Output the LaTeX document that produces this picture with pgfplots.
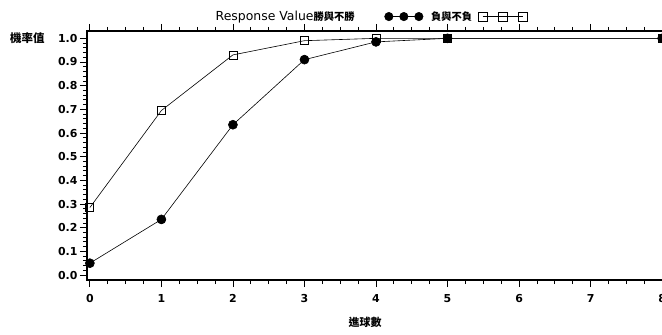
\documentclass[border=0pt]{standalone}
\usepackage{pgfplots}
\pgfplotsset{compat=1.18}
\usepackage{fontspec}
\setmainfont{DejaVu Sans}
\newfontfamily\cjk{Noto Sans CJK TC}
\begin{document}
\begin{tikzpicture}
\begin{axis}[
  at={(87bp,55bp)}, anchor=south west,
  scale only axis, width=578bp, height=249bp,
  xmin=-0.04, xmax=8.04, ymin=-0.021, ymax=1.031,
  clip=false,
  xtick={0,1,2,3,4,5,6,7,8},
  xticklabels={0,1,2,3,4,5,6,7,8},
  ytick={0,0.1,0.2,0.3,0.4,0.5,0.6,0.7,0.8,0.9,1.0},
  yticklabels={0.0,0.1,0.2,0.3,0.4,0.5,0.6,0.7,0.8,0.9,1.0},
  minor x tick num=3, minor y tick num=4,
  tick align=outside,
  major tick length=7bp, minor tick length=4bp,
  tick style={black, line width=0.8bp},
  axis line style={line width=1.2bp},
  ticklabel style={font=\fontsize{11}{13}\selectfont\bfseries},
  xticklabel style={yshift=-4bp},
  yticklabel style={xshift=1bp},
  xlabel={\cjk\bfseries 進球數},
  ylabel={\cjk\bfseries 機率值},
  every axis x label/.style={at={(rel axis cs:0.481,0)}, anchor=center, yshift=-42bp, font=\fontsize{11}{13}\selectfont},
  every axis y label/.style={at={(rel axis cs:0,0.972)}, anchor=east, xshift=-39bp, font=\fontsize{11.5}{13}\selectfont},
  legend columns=3,
  legend plot pos=right,
  legend style={at={(0.492,1.058)}, anchor=center, draw=none, fill=none,
    inner sep=0pt, nodes={inner sep=0pt}, column sep=0bp},
]
\addlegendimage{empty legend}
\addlegendentry{\fontsize{12.5}{14}\selectfont Response Value}
\addplot[black, line width=0.6bp, mark=*, mark size=4.5bp, mark options={solid, fill=black},
  legend image code/.code={\draw[mark repeat=1, mark size=4.2bp] plot coordinates {(0bp,0bp) (15bp,0bp) (30bp,0bp)};}]
  coordinates {(0,0.05) (1,0.235) (2,0.635) (3,0.91) (4,0.985) (5,1.0) (8,1.0)};
\addlegendentry{\fontsize{10.3}{12}\selectfont\cjk\bfseries 勝與不勝\hspace*{30bp}}
\addplot[black, line width=0.6bp, mark=square, mark size=4bp, mark options={solid, line width=0.8bp},
  legend image code/.code={\draw[mark repeat=1, mark size=4.5bp] plot coordinates {(0bp,0bp) (20bp,0bp) (40bp,0bp)};}]
  coordinates {(0,0.285) (1,0.695) (2,0.93) (3,0.99) (4,1.0) (5,1.0) (8,1.0)};
\addlegendentry{\hspace*{8bp}\fontsize{10.3}{12}\selectfont\cjk\bfseries 負與不負\hspace*{6bp}}
\end{axis}
\pgfresetboundingbox
\path[use as bounding box] (0,0) rectangle (662bp,335bp);
\end{tikzpicture}
\end{document}
